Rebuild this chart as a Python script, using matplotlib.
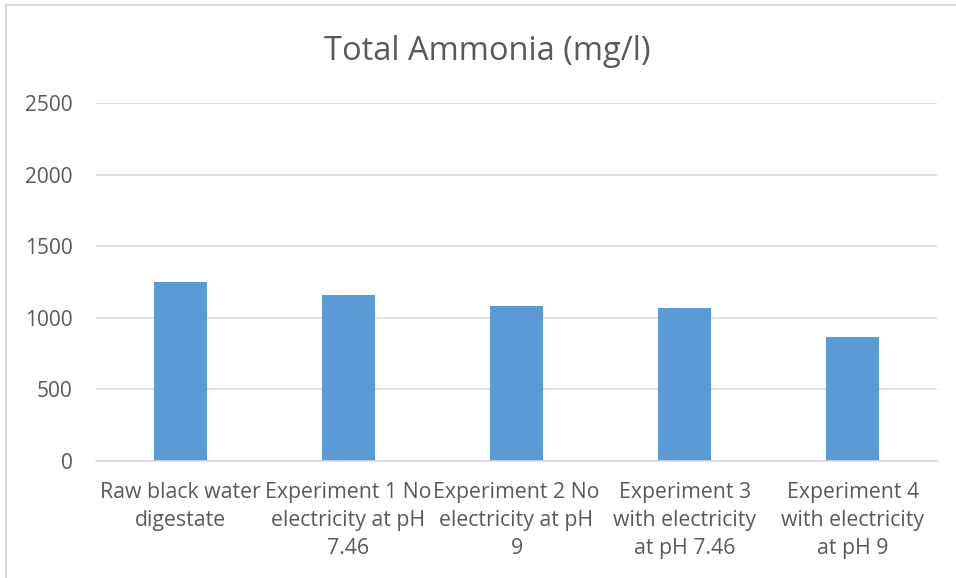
import matplotlib.pyplot as plt
from matplotlib.patches import Rectangle

# total ammonia per sample (mg/l)
categories = [
    "Raw black water\ndigestate",
    "Experiment 1 No\nelectricity at pH\n7.46",
    "Experiment 2 No\nelectricity at pH\n9",
    "Experiment 3\nwith electricity\nat pH 7.46",
    "Experiment 4\nwith electricity\nat pH 9",
]
ammonia = [1250, 1160, 1080, 1070, 865]
yticks = [0, 500, 1000, 1500, 2000, 2500]

TEXT = '#595959'
GRID = '#D9D9D9'
BAR = '#5B9BD5'

plt.rcParams['font.family'] = ['Open Sans', 'DejaVu Sans']

fig = plt.figure(figsize=(9.56, 5.78), dpi=100)
ax = fig.add_axes([96 / 956, 1 - 461 / 578, (937 - 96) / 956, (461 - 103) / 578])

x = range(len(categories))
ax.bar(x, ammonia, width=0.315, color=BAR, zorder=3)

ax.set_xlim(-0.5, len(categories) - 0.5)
ax.set_ylim(0, 2500)
ax.set_yticks(yticks)
ax.set_yticklabels([str(v) for v in yticks])
ax.set_xticks(list(x))
ax.set_xticklabels(categories, linespacing=1.45)

ax.grid(axis='y', color=GRID, linewidth=1.2, zorder=0)
for side in ['top', 'right', 'left']:
    ax.spines[side].set_visible(False)
ax.spines['bottom'].set_color(GRID)
ax.spines['bottom'].set_linewidth(1.2)
ax.spines['bottom'].set_zorder(4)

ax.tick_params(axis='y', length=0, labelsize=15, colors=TEXT, pad=17)
ax.tick_params(axis='x', length=0, labelsize=15.3, colors=TEXT, pad=15)

fig.text(487 / 956, 1 - 52 / 578, "Total Ammonia (mg/l)", ha='center', va='center',
         fontsize=23.5, color=TEXT)

# chart frame
fig.patches.append(Rectangle((6 / 956, -0.01), 1.0, 1 - 5 / 578 + 0.01,
                             transform=fig.transFigure, fill=False,
                             edgecolor=GRID, linewidth=1.5))

fig.savefig('out.png', dpi=100, facecolor='white')
